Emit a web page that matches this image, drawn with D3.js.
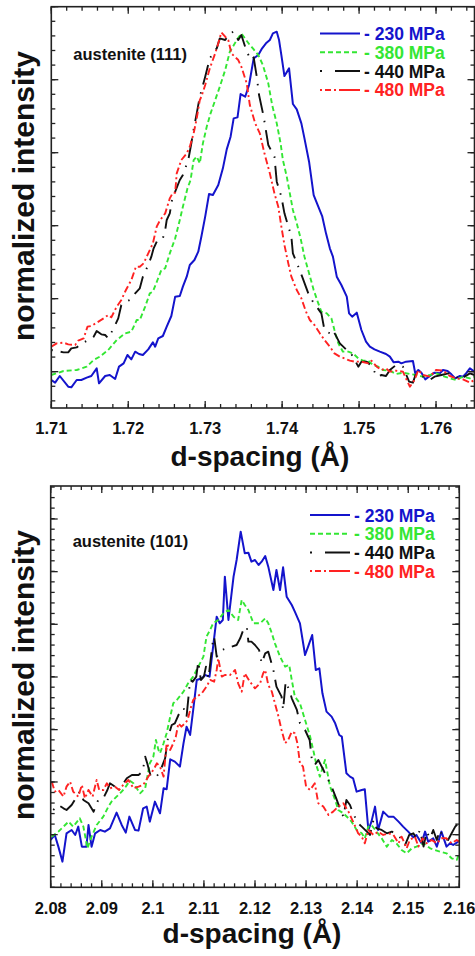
<!DOCTYPE html>
<html>
<head>
<meta charset="utf-8">
<script src="https://cdn.jsdelivr.net/npm/d3@7"></script>
<style>
  body { margin: 0; background: #fff; }
  svg { display: block; }
  text { font-family: "Liberation Sans", Arial, Helvetica, sans-serif; font-weight: bold; }
</style>
</head>
<body>
<svg id="chart" width="475" height="956"></svg>
<script>
// ---- shared labels ----
const stressLabels = ["- 230 MPa", "- 380 MPa", "- 440 MPa", "- 480 MPa"];
const peakNames = ["austenite (111)", "austenite (101)"];
const xTitle = "d-spacing (Å)";
const yTitle = "normalized intensity";

// ---- austenite (111): d-spacing (Å) and intensity (a.u.) ----
const xTicks111 = [1.71, 1.72, 1.73, 1.74, 1.75, 1.76];
const xTickLabels111 = ["1.71", "1.72", "1.73", "1.74", "1.75", "1.76"];
const yMajor111 = [219, 438, 657, 876, 1095, 1314];

const d111_230 = [1.7100,1.7105,1.7111,1.7122,1.7126,1.7133,1.7139,1.7146,1.7152,1.7159,1.7162,1.7170,1.7176,1.7183,1.7188,1.7194,1.7199,1.7204,1.7209,1.7214,1.7219,1.7226,1.7232,1.7235,1.7239,1.7245,1.7250,1.7256,1.7261,1.7267,1.7271,1.7276,1.7280,1.7286,1.7291,1.7295,1.7300,1.7305,1.7310,1.7317,1.7323,1.7328,1.7333,1.7337,1.7342,1.7346,1.7352,1.7357,1.7363,1.7369,1.7374,1.7379,1.7384,1.7388,1.7393,1.7396,1.7399,1.7403,1.7409,1.7414,1.7419,1.7425,1.7429,1.7435,1.7441,1.7447,1.7452,1.7457,1.7462,1.7466,1.7471,1.7477,1.7484,1.7487,1.7491,1.7497,1.7503,1.7509,1.7514,1.7520,1.7527,1.7535,1.7540,1.7545,1.7551,1.7555,1.7561,1.7570,1.7573,1.7577,1.7581,1.7586,1.7592,1.7598,1.7605,1.7609,1.7615,1.7620,1.7625,1.7631,1.7635,1.7639,1.7644,1.7650];
const i111_230 = [194,186,206,174,172,194,194,201,206,229,184,206,209,197,234,244,269,256,279,272,269,286,307,294,319,326,354,386,444,446,474,504,539,554,579,624,684,752,749,779,829,886,924,979,982,1052,1044,1079,1159,1169,1189,1204,1214,1234,1239,1214,1169,1106,1129,1022,1006,964,919,849,749,714,686,634,589,564,504,479,444,394,384,396,344,309,294,286,279,272,264,247,249,244,249,251,214,224,216,196,206,216,214,224,221,211,199,206,204,214,229,219];

const d111_380 = [1.7100,1.7116,1.7133,1.7146,1.7155,1.7163,1.7174,1.7185,1.7196,1.7204,1.7211,1.7215,1.7222,1.7228,1.7232,1.7238,1.7243,1.7248,1.7254,1.7261,1.7267,1.7271,1.7277,1.7281,1.7285,1.7289,1.7293,1.7297,1.7302,1.7307,1.7313,1.7319,1.7326,1.7332,1.7336,1.7341,1.7347,1.7358,1.7362,1.7369,1.7375,1.7382,1.7387,1.7393,1.7398,1.7401,1.7406,1.7410,1.7414,1.7419,1.7424,1.7429,1.7435,1.7441,1.7447,1.7451,1.7458,1.7464,1.7468,1.7473,1.7479,1.7486,1.7492,1.7499,1.7505,1.7512,1.7518,1.7525,1.7531,1.7540,1.7548,1.7557,1.7566,1.7574,1.7583,1.7592,1.7600,1.7609,1.7618,1.7626,1.7635,1.7644,1.7650];
const i111_380 = [209,221,224,234,254,264,284,314,334,339,374,374,414,454,459,494,524,529,574,619,674,714,769,794,854,864,844,904,954,994,1034,1074,1124,1179,1194,1214,1234,1199,1189,1169,1139,1084,1019,964,904,854,804,754,704,664,619,564,514,464,424,399,394,379,344,304,279,279,274,259,252,252,239,234,224,222,212,216,212,209,204,209,214,206,199,194,204,199,204];

const d111_440 = [1.7100,1.7116,1.7122,1.7126,1.7133,1.7142,1.7148,1.7155,1.7159,1.7165,1.7170,1.7174,1.7181,1.7187,1.7191,1.7197,1.7202,1.7209,1.7215,1.7219,1.7226,1.7230,1.7233,1.7238,1.7245,1.7248,1.7250,1.7254,1.7258,1.7261,1.7267,1.7271,1.7278,1.7282,1.7284,1.7289,1.7293,1.7300,1.7306,1.7310,1.7315,1.7319,1.7326,1.7332,1.7337,1.7343,1.7347,1.7353,1.7359,1.7363,1.7367,1.7370,1.7376,1.7382,1.7390,1.7393,1.7399,1.7403,1.7412,1.7414,1.7421,1.7426,1.7434,1.7440,1.7451,1.7455,1.7462,1.7466,1.7475,1.7484,1.7488,1.7492,1.7499,1.7503,1.7510,1.7517,1.7523,1.7529,1.7535,1.7540,1.7548,1.7557,1.7565,1.7570,1.7574,1.7583,1.7592,1.7598,1.7607,1.7616,1.7624,1.7631,1.7637,1.7644,1.7650];
const i111_440 = [284,277,277,289,292,306,314,324,341,331,329,319,349,379,419,429,434,454,469,504,539,564,589,614,619,644,674,694,749,759,794,809,854,904,934,994,1044,1104,1159,1174,1189,1219,1214,1234,1239,1214,1229,1186,1154,1162,1104,1049,984,899,864,789,744,694,624,574,534,504,454,429,394,344,334,344,304,284,279,264,234,249,249,234,204,209,206,224,239,234,189,186,214,204,194,204,209,214,209,194,204,214,209];

const d111_480 = [1.7100,1.7107,1.7116,1.7122,1.7131,1.7135,1.7142,1.7147,1.7152,1.7159,1.7168,1.7174,1.7178,1.7185,1.7191,1.7197,1.7204,1.7210,1.7215,1.7220,1.7226,1.7232,1.7237,1.7241,1.7248,1.7254,1.7258,1.7261,1.7263,1.7269,1.7276,1.7280,1.7285,1.7289,1.7293,1.7295,1.7300,1.7306,1.7313,1.7317,1.7321,1.7326,1.7330,1.7334,1.7343,1.7347,1.7354,1.7358,1.7365,1.7371,1.7377,1.7384,1.7390,1.7395,1.7399,1.7403,1.7408,1.7412,1.7419,1.7425,1.7431,1.7436,1.7442,1.7449,1.7455,1.7462,1.7468,1.7475,1.7481,1.7488,1.7494,1.7503,1.7512,1.7516,1.7523,1.7529,1.7535,1.7540,1.7548,1.7557,1.7566,1.7572,1.7577,1.7583,1.7592,1.7600,1.7609,1.7618,1.7626,1.7635,1.7644,1.7650];
const i111_480 = [294,304,306,301,299,312,319,354,356,366,379,389,382,414,434,464,494,534,534,544,574,604,654,672,694,739,756,756,814,854,874,894,934,979,1034,1044,1079,1129,1174,1204,1237,1224,1214,1174,1154,1134,1084,1019,964,934,874,814,754,714,654,599,544,504,464,439,399,374,359,334,314,294,274,264,259,252,249,249,244,252,234,224,229,219,222,219,174,194,224,209,204,224,222,206,199,196,186,194];

// ---- austenite (101): d-spacing (Å) and intensity (a.u.) ----
const xTicks101 = [2.08, 2.09, 2.10, 2.11, 2.12, 2.13, 2.14, 2.15, 2.16];
const xTickLabels101 = ["2.08", "2.09", "2.1", "2.11", "2.12", "2.13", "2.14", "2.15", "2.16"];
const yMajor101 = [158, 316, 473, 631, 789, 947, 1105];

const d101_230 = [2.0800,2.0808,2.0815,2.0823,2.0831,2.0841,2.0848,2.0854,2.0861,2.0870,2.0874,2.0880,2.0887,2.0897,2.0906,2.0916,2.0929,2.0939,2.0947,2.0954,2.0965,2.0972,2.0981,2.0988,2.0994,2.1004,2.1014,2.1021,2.1027,2.1034,2.1043,2.1053,2.1060,2.1066,2.1073,2.1079,2.1086,2.1096,2.1102,2.1111,2.1118,2.1125,2.1131,2.1137,2.1141,2.1148,2.1158,2.1164,2.1172,2.1180,2.1187,2.1193,2.1200,2.1207,2.1213,2.1220,2.1226,2.1236,2.1242,2.1249,2.1255,2.1262,2.1272,2.1278,2.1288,2.1298,2.1304,2.1312,2.1319,2.1326,2.1332,2.1340,2.1350,2.1357,2.1365,2.1370,2.1379,2.1386,2.1392,2.1399,2.1409,2.1415,2.1422,2.1428,2.1435,2.1441,2.1451,2.1461,2.1471,2.1481,2.1490,2.1500,2.1510,2.1516,2.1526,2.1533,2.1539,2.1549,2.1556,2.1565,2.1575,2.1582,2.1588,2.1598];
const i101_230 = [142,157,122,77,162,172,157,182,122,122,187,122,162,172,167,177,224,187,164,212,172,170,237,242,197,257,222,297,294,384,377,362,432,482,457,532,622,627,637,632,722,812,792,802,932,802,932,982,1067,1002,1004,977,982,967,977,994,962,892,952,892,960,872,847,827,792,697,722,757,652,657,582,527,512,492,457,452,342,332,327,287,292,294,172,197,242,172,227,212,212,197,182,167,150,157,132,167,137,147,122,167,122,132,127,137];

const d101_380 = [2.0802,2.0815,2.0835,2.0844,2.0857,2.0864,2.0872,2.0880,2.0890,2.0903,2.0913,2.0919,2.0929,2.0939,2.0947,2.0955,2.0962,2.0975,2.0985,2.0994,2.1001,2.1006,2.1011,2.1014,2.1021,2.1027,2.1034,2.1040,2.1047,2.1060,2.1069,2.1079,2.1089,2.1099,2.1105,2.1112,2.1118,2.1128,2.1138,2.1148,2.1158,2.1167,2.1174,2.1180,2.1187,2.1197,2.1210,2.1220,2.1226,2.1233,2.1239,2.1249,2.1259,2.1267,2.1272,2.1278,2.1288,2.1298,2.1308,2.1314,2.1321,2.1327,2.1337,2.1342,2.1347,2.1357,2.1363,2.1373,2.1383,2.1389,2.1399,2.1409,2.1415,2.1422,2.1428,2.1438,2.1448,2.1458,2.1468,2.1477,2.1487,2.1497,2.1507,2.1516,2.1530,2.1543,2.1552,2.1562,2.1575,2.1585,2.1595,2.1600];
const i101_380 = [152,167,197,182,207,182,117,152,187,212,242,257,272,287,302,320,312,282,297,372,392,442,412,402,432,462,512,552,562,587,612,632,662,692,752,772,792,802,822,832,812,802,862,847,832,792,792,807,792,762,732,692,662,667,622,572,552,502,452,412,362,332,382,342,302,262,232,222,207,197,172,162,147,182,187,167,147,122,142,132,112,102,117,122,132,117,112,107,102,87,82,102];

const d101_440 = [2.0805,2.0815,2.0825,2.0831,2.0841,2.0857,2.0864,2.0874,2.0884,2.0893,2.0903,2.0911,2.0916,2.0926,2.0931,2.0949,2.0959,2.0972,2.0980,2.0985,2.0989,2.0996,2.1007,2.1014,2.1024,2.1030,2.1037,2.1043,2.1056,2.1063,2.1066,2.1073,2.1078,2.1085,2.1089,2.1094,2.1100,2.1104,2.1109,2.1113,2.1117,2.1120,2.1125,2.1135,2.1145,2.1154,2.1164,2.1171,2.1177,2.1184,2.1187,2.1193,2.1200,2.1208,2.1213,2.1220,2.1226,2.1236,2.1242,2.1252,2.1255,2.1260,2.1267,2.1272,2.1282,2.1288,2.1298,2.1307,2.1311,2.1317,2.1324,2.1334,2.1340,2.1350,2.1359,2.1365,2.1373,2.1379,2.1386,2.1392,2.1402,2.1409,2.1419,2.1425,2.1432,2.1438,2.1448,2.1458,2.1468,2.1481,2.1494,2.1502,2.1510,2.1516,2.1523,2.1530,2.1536,2.1543,2.1549,2.1556,2.1562,2.1569,2.1578,2.1585,2.1592,2.1598];
const i101_440 = [232,247,237,232,247,287,262,252,227,262,267,292,312,302,287,327,337,337,347,392,372,332,332,347,387,452,487,492,537,534,512,622,617,632,677,622,632,662,627,682,732,752,692,712,717,722,727,747,772,782,737,737,727,712,672,702,707,652,602,572,532,617,592,567,532,492,472,442,387,367,382,352,332,302,267,242,212,262,247,222,192,182,167,157,202,177,172,162,167,157,127,157,162,147,172,122,167,147,172,142,172,147,142,162,182,192];

const d101_480 = [2.0802,2.0808,2.0815,2.0825,2.0831,2.0838,2.0844,2.0854,2.0861,2.0867,2.0874,2.0882,2.0890,2.0895,2.0903,2.0910,2.0916,2.0926,2.0934,2.0942,2.0952,2.0962,2.0972,2.0981,2.0991,2.1001,2.1008,2.1014,2.1021,2.1027,2.1034,2.1040,2.1045,2.1050,2.1056,2.1063,2.1068,2.1073,2.1079,2.1086,2.1096,2.1105,2.1112,2.1120,2.1125,2.1128,2.1135,2.1141,2.1151,2.1161,2.1167,2.1174,2.1180,2.1190,2.1200,2.1210,2.1216,2.1220,2.1226,2.1233,2.1239,2.1246,2.1252,2.1259,2.1265,2.1272,2.1278,2.1283,2.1288,2.1294,2.1300,2.1308,2.1317,2.1324,2.1334,2.1344,2.1353,2.1363,2.1373,2.1383,2.1392,2.1402,2.1409,2.1415,2.1422,2.1432,2.1441,2.1451,2.1461,2.1471,2.1481,2.1487,2.1497,2.1503,2.1513,2.1520,2.1528,2.1536,2.1546,2.1556,2.1565,2.1575,2.1585,2.1595,2.1600];
const i101_480 = [317,287,292,272,302,317,287,272,307,267,292,272,322,292,292,312,297,302,292,307,322,297,302,307,332,352,372,362,332,432,412,432,452,492,482,492,502,532,562,572,582,602,622,617,652,687,632,637,637,652,612,587,642,617,597,612,642,652,607,587,552,512,472,432,442,467,462,432,372,362,302,292,312,252,242,217,227,242,252,227,197,162,152,132,172,157,167,157,162,157,132,152,117,142,152,122,147,132,142,132,147,147,132,142,137];

// ---- line styles, one per applied stress ----
const styles = [
  { color: "#1414cc", dash: null,            legendDash: null,              width: 2.0 },
  { color: "#33e633", dash: "5,3",           legendDash: "5,3",             width: 1.9 },
  { color: "#111111", dash: "1.5,8,20,8",    legendDash: "2,13,26",         width: 1.9 },
  { color: "#ff2222", dash: "7,3,2,3",       legendDash: "2,3,6,3,2,3,22",  width: 1.9 }
];

const svg = d3.select("#chart");

function drawPanel(cfg, idx) {
  const x = d3.scaleLinear().domain(cfg.xDomain).range([cfg.left, cfg.right]);
  const y = d3.scaleLinear().domain(cfg.yDomain).range([cfg.bottom, cfg.top]);
  const g = svg.append("g");

  const clipId = "clip" + idx;
  g.append("clipPath").attr("id", clipId)
    .append("rect")
    .attr("x", cfg.left).attr("y", cfg.top)
    .attr("width", cfg.right - cfg.left).attr("height", cfg.bottom - cfg.top);

  // curves
  const line = d3.line().x(p => x(p[0])).y(p => y(p[1]));
  const curves = g.append("g").attr("clip-path", `url(#${clipId})`);
  cfg.series.forEach((s, k) => {
    const pts = d3.zip(s.d, s.i);
    curves.append("path")
      .datum(pts)
      .attr("d", line)
      .attr("fill", "none")
      .attr("stroke", styles[k].color)
      .attr("stroke-width", styles[k].width)
      .attr("stroke-linejoin", "round")
      .attr("stroke-dasharray", styles[k].dash);
  });

  // frame and ticks on all four sides, pointing inward
  const axisColor = "#222";
  const xMinor = d3.range(cfg.xDomain[0], cfg.xDomain[1] + 1e-9, cfg.xMinorStep);
  const yStep = cfg.yMajor[1] - cfg.yMajor[0];
  const yMinor = [];
  for (let v = cfg.yMajor[0] - yStep; v <= cfg.yDomain[1] + 1e-6; v += yStep / 5) {
    if (v >= cfg.yDomain[0] - 1e-6) yMinor.push(v);
  }
  const MAJ = 7, MIN = 4;
  const ticks = g.append("g").attr("stroke", axisColor).attr("stroke-width", 1.3);
  xMinor.forEach(v => {
    const px = x(v);
    ticks.append("line").attr("x1", px).attr("x2", px).attr("y1", cfg.bottom).attr("y2", cfg.bottom - MIN);
    ticks.append("line").attr("x1", px).attr("x2", px).attr("y1", cfg.top).attr("y2", cfg.top + MIN);
  });
  cfg.xTicks.forEach(v => {
    const px = x(v);
    ticks.append("line").attr("x1", px).attr("x2", px).attr("y1", cfg.bottom).attr("y2", cfg.bottom - MAJ);
    ticks.append("line").attr("x1", px).attr("x2", px).attr("y1", cfg.top).attr("y2", cfg.top + MAJ);
  });
  yMinor.forEach(v => {
    const py = y(v);
    ticks.append("line").attr("x1", cfg.left).attr("x2", cfg.left + MIN).attr("y1", py).attr("y2", py);
    ticks.append("line").attr("x1", cfg.right).attr("x2", cfg.right - MIN).attr("y1", py).attr("y2", py);
  });
  cfg.yMajor.forEach(v => {
    const py = y(v);
    ticks.append("line").attr("x1", cfg.left).attr("x2", cfg.left + MAJ).attr("y1", py).attr("y2", py);
    ticks.append("line").attr("x1", cfg.right).attr("x2", cfg.right - MAJ).attr("y1", py).attr("y2", py);
  });
  g.append("rect")
    .attr("x", cfg.left).attr("y", cfg.top)
    .attr("width", cfg.right - cfg.left).attr("height", cfg.bottom - cfg.top)
    .attr("fill", "none").attr("stroke", axisColor).attr("stroke-width", 1.6);

  // tick labels
  g.append("g").selectAll("text").data(cfg.xTicks).join("text")
    .attr("x", v => x(v)).attr("y", cfg.tickLabelY)
    .attr("text-anchor", "middle").attr("font-size", 16.5).attr("fill", "#111")
    .text((v, j) => cfg.xTickLabels[j]);

  // axis titles
  g.append("text")
    .attr("x", (cfg.left + cfg.right) / 2 - 3).attr("y", cfg.xTitleY)
    .attr("text-anchor", "middle").attr("font-size", 28).attr("fill", "#111")
    .text(xTitle);
  g.append("text")
    .attr("transform", `translate(34,${cfg.yTitleCenter}) rotate(-90)`)
    .attr("text-anchor", "middle").attr("font-size", 30).attr("fill", "#111")
    .text(yTitle);

  // reflection label
  g.append("text")
    .attr("x", cfg.left + 22).attr("y", cfg.peakLabelY)
    .attr("font-size", 16.5).attr("fill", "#111")
    .text(cfg.peakName);

  // legend
  const lg = g.append("g");
  stressLabels.forEach((lab, k) => {
    const ly = cfg.legendY + k * cfg.legendStep;
    lg.append("line")
      .attr("x1", cfg.legendX).attr("x2", cfg.legendX + 40)
      .attr("y1", ly).attr("y2", ly)
      .attr("stroke", styles[k].color).attr("stroke-width", 2)
      .attr("stroke-dasharray", styles[k].legendDash);
    lg.append("text")
      .attr("x", cfg.legendX + 44).attr("y", ly + 6.5)
      .attr("font-size", 17.5).attr("fill", styles[k].color)
      .text(lab);
  });
}

drawPanel({
  left: 51.3, right: 474.5, top: 6.7, bottom: 408,
  xDomain: [1.71, 1.765], yDomain: [110, 1314],
  xTicks: xTicks111, xTickLabels: xTickLabels111, xMinorStep: 0.002,
  yMajor: yMajor111,
  series: [
    { d: d111_230, i: i111_230 }, { d: d111_380, i: i111_380 },
    { d: d111_440, i: i111_440 }, { d: d111_480, i: i111_480 }
  ],
  tickLabelY: 434, xTitleY: 466, yTitleCenter: 196,
  peakName: peakNames[0], peakLabelY: 59.5,
  legendX: 320, legendY: 33.5, legendStep: 18.8
}, 0);

drawPanel({
  left: 50.7, right: 459.3, top: 486, bottom: 887.3,
  xDomain: [2.08, 2.16], yDomain: [0, 1204],
  xTicks: xTicks101, xTickLabels: xTickLabels101, xMinorStep: 0.002,
  yMajor: yMajor101,
  series: [
    { d: d101_230, i: i101_230 }, { d: d101_380, i: i101_380 },
    { d: d101_440, i: i101_440 }, { d: d101_480, i: i101_480 }
  ],
  tickLabelY: 914, xTitleY: 943, yTitleCenter: 675,
  peakName: peakNames[1], peakLabelY: 546.5,
  legendX: 310, legendY: 515, legendStep: 18.7
}, 1);
</script>
</body>
</html>
